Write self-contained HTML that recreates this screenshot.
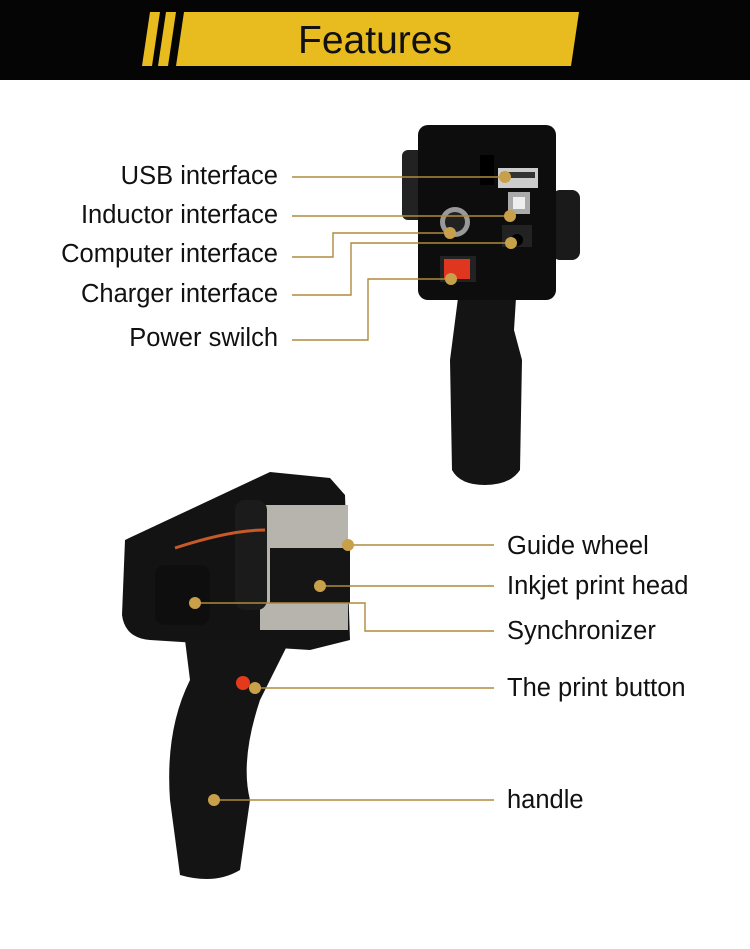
<!DOCTYPE html>
<html><head><meta charset="utf-8"><style>
body{margin:0;width:750px;height:949px;background:#fff;overflow:hidden;font-family:"Liberation Sans",sans-serif}
.t{position:absolute;font-size:25.5px;color:#111;white-space:nowrap;line-height:1}
.l{right:472px;text-align:right}
</style></head><body>
<svg width="750" height="949" style="position:absolute;left:0;top:0">
<rect x="0" y="0" width="750" height="80" fill="#050505"/>
<polygon points="150,12 160,12 152,66 142,66" fill="#e8bb1f"/>
<polygon points="166,12 176,12 168,66 158,66" fill="#e8bb1f"/>
<polygon points="184,12 579,12 571,66 176,66" fill="#e8bb1f"/>
<text x="375" y="53" font-size="39" text-anchor="middle" fill="#111" font-family="Liberation Sans">Features</text>
<!-- top device -->
<rect x="402" y="150" width="24" height="70" rx="6" fill="#222"/>
<rect x="552" y="190" width="28" height="70" rx="8" fill="#1a1a1a"/>
<path d="M458 298 L516 298 L514 330 L522 360 L520 470 Q510 485 485 485 Q460 485 452 470 L450 360 Z" fill="#141414"/>
<rect x="418" y="125" width="138" height="175" rx="10" fill="#0d0d0d"/>
<rect x="480" y="155" width="14" height="30" fill="#000"/>
<rect x="498" y="168" width="40" height="20" fill="#ccc"/><rect x="501" y="172" width="34" height="6" fill="#333"/>
<rect x="508" y="192" width="22" height="22" fill="#aaa"/><rect x="513" y="197" width="12" height="12" fill="#eee"/>
<circle cx="455" cy="222" r="15" fill="#999"/><circle cx="455" cy="222" r="10" fill="#222"/>
<rect x="502" y="225" width="30" height="22" fill="#222"/><circle cx="517" cy="240" r="6" fill="#000"/>
<rect x="440" y="256" width="36" height="26" fill="#222"/><rect x="444" y="259" width="26" height="20" fill="#e0351f"/>
<!-- bottom device -->
<path d="M125 540 L270 472 L330 478 L345 495 L350 640 L310 650 L150 640 Q125 638 122 615 Z" fill="#131313"/>
<rect x="260" y="505" width="88" height="125" fill="#b7b4ae"/>
<rect x="270" y="548" width="80" height="55" fill="#151515"/>
<rect x="235" y="500" width="32" height="110" rx="10" fill="#1b1b1b"/>
<rect x="155" y="565" width="55" height="60" rx="10" fill="#0e0e0e"/>
<path d="M175 548 Q230 530 265 530" stroke="#c85a2a" stroke-width="3" fill="none"/>
<path d="M185 640 L290 640 L260 700 Q240 760 250 800 L240 870 Q215 885 180 875 L170 800 Q165 730 190 680 Z" fill="#141414"/>
<circle cx="243" cy="683" r="7" fill="#e23a1a"/>
<g stroke="#b08a3c" stroke-width="1.4" fill="none">
<path d="M292 177H505"/><path d="M292 216H510"/>
<path d="M292 257H333V233H450"/><path d="M292 295H351V243H511"/>
<path d="M292 340H368V279H451"/>
<path d="M348 545H494"/><path d="M320 586H494"/>
<path d="M195 603H365V631H494"/><path d="M255 688H494"/><path d="M214 800H494"/>
</g>
<g fill="#c9a04a">
<circle cx="505" cy="177" r="6"/><circle cx="510" cy="216" r="6"/><circle cx="450" cy="233" r="6"/>
<circle cx="511" cy="243" r="6"/><circle cx="451" cy="279" r="6"/>
<circle cx="348" cy="545" r="6"/><circle cx="320" cy="586" r="6"/><circle cx="195" cy="603" r="6"/>
<circle cx="255" cy="688" r="6"/><circle cx="214" cy="800" r="6"/>
</g>
</svg>
<div class="t l" style="top:164px">USB interface</div>
<div class="t l" style="top:203px">Inductor interface</div>
<div class="t l" style="top:242px">Computer interface</div>
<div class="t l" style="top:282px">Charger interface</div>
<div class="t l" style="top:326px">Power swilch</div>
<div class="t" style="left:507px;top:534px">Guide wheel</div>
<div class="t" style="left:507px;top:574px">Inkjet print head</div>
<div class="t" style="left:507px;top:619px">Synchronizer</div>
<div class="t" style="left:507px;top:676px">The print button</div>
<div class="t" style="left:507px;top:788px">handle</div>
</body></html>
